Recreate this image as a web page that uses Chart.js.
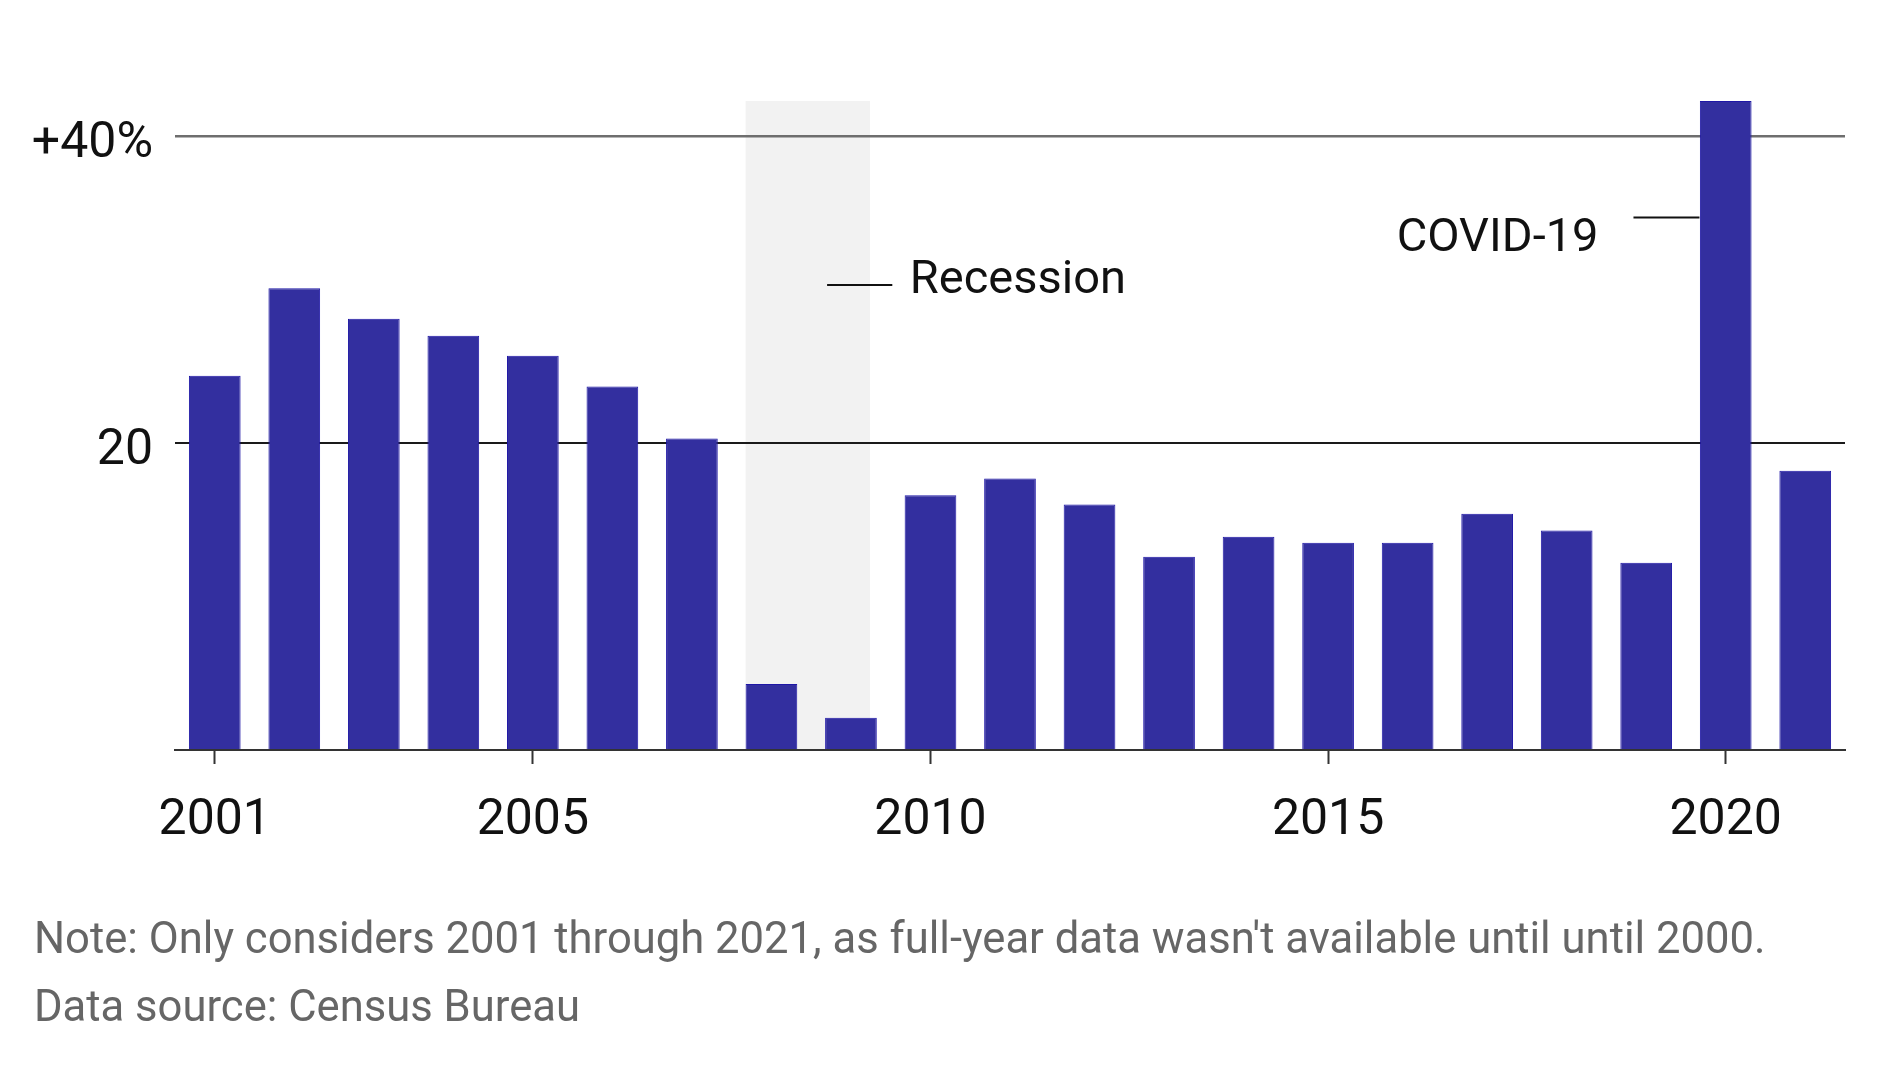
<!DOCTYPE html>
<html>
<head>
<meta charset="utf-8">
<script src="https://cdn.jsdelivr.net/npm/chart.js@4.4.0/dist/chart.umd.min.js"></script>
<style>
  html, body { margin: 0; padding: 0; background: #fff; }
  #wrap { position: relative; width: 1878px; height: 1065px; }
  #chart { position: absolute; left: 0; top: 0; }
  .foot { position: absolute; left: 34px; font-family: Roboto, sans-serif; font-size: 43.6px; color: #666; white-space: nowrap; line-height: 1; }
</style>
</head>
<body>
<div id="wrap">
  <canvas id="chart" width="1878" height="1065"></canvas>
  <div class="foot" style="top:917px">Note: Only considers 2001 through 2021, as full-year data wasn't available until until 2000.</div>
  <div class="foot" style="top:985px">Data source: Census Bureau</div>
</div>
<script>
const years = ['2001', '2002', '2003', '2004', '2005', '2006', '2007', '2008', '2009', '2010', '2011',
    '2012', '2013', '2014', '2015', '2016', '2017', '2018', '2019', '2020', '2021'];
const growth = [24.4, 30.1, 28.1, 27.0, 25.7, 23.7, 20.3, 4.3, 2.1, 16.6, 17.7,
    16.0, 12.6, 13.9, 13.5, 13.5, 15.4, 14.3, 12.2, 42.3, 18.2];
const labeledYears = ['2001', '2005', '2010', '2015', '2020'];
const yTicks = [0, 20, 40];
const yTickLabels = ['', '20', '+40%'];

const font = 'Roboto, sans-serif';

// grey band behind the 2008-2009 bars, drawn before the grid
const recessionBand = {
    id: 'recessionBand',
    beforeDraw(chart) {
        const x = chart.scales.x, y = chart.scales.y, c = chart.ctx;
        const step = x.getPixelForValue(1) - x.getPixelForValue(0);
        const left = x.getPixelForValue(years.indexOf('2008')) - step * 0.325;
        const right = x.getPixelForValue(years.indexOf('2009')) + step * 0.24;
        const top = y.getPixelForValue(y.max);
        c.save();
        c.fillStyle = '#f2f2f2';
        c.fillRect(left, top, right - left, y.getPixelForValue(0) - top);
        c.restore();
    }
};

// labels with short leader lines
const callouts = {
    id: 'callouts',
    afterDatasetsDraw(chart) {
        const x = chart.scales.x, y = chart.scales.y, c = chart.ctx;
        const step = x.getPixelForValue(1) - x.getPixelForValue(0);
        const x9 = x.getPixelForValue(years.indexOf('2009'));
        const x20 = x.getPixelForValue(years.indexOf('2020'));
        c.save();
        c.strokeStyle = '#111';
        c.lineWidth = 2;
        c.fillStyle = '#111';
        c.font = '47px ' + font;
        c.textBaseline = 'middle';

        c.beginPath();
        c.moveTo(x9 - step * 0.3, y.getPixelForValue(30.3));
        c.lineTo(x9 + step * 0.52, y.getPixelForValue(30.3));
        c.stroke();
        c.textAlign = 'left';
        c.fillText('Recession', x9 + step * 0.74, y.getPixelForValue(30.55));

        c.beginPath();
        c.moveTo(x20 - step * 1.16, y.getPixelForValue(34.7));
        c.lineTo(x20 - step * 0.33, y.getPixelForValue(34.7));
        c.stroke();
        c.textAlign = 'right';
        c.fillText('COVID-19', x20 - step * 1.6, y.getPixelForValue(33.3));
        c.restore();
    }
};

new Chart(document.getElementById('chart'), {
    type: 'bar',
    data: {
        labels: years,
        datasets: [{
            data: growth,
            backgroundColor: '#332f9f',
            borderColor: '#1f17a6',
            borderWidth: 1,
            barPercentage: 0.65,
            categoryPercentage: 1
        }]
    },
    options: {
        responsive: false,
        animation: false,
        devicePixelRatio: 1,
        layout: { padding: { top: 101, right: 33, left: 0, bottom: 0 } },
        plugins: { legend: { display: false }, tooltip: { enabled: false } },
        scales: {
            x: {
                grid: {
                    offset: false,
                    drawOnChartArea: false,
                    drawTicks: true,
                    tickLength: 14,
                    tickWidth: 2,
                    tickColor: ctx => labeledYears.includes(years[ctx.index]) ? '#333' : 'rgba(0,0,0,0)'
                },
                border: { color: '#333', width: 2 },
                ticks: {
                    autoSkip: false,
                    maxRotation: 0,
                    padding: 27,
                    color: '#111',
                    font: { family: font, size: 50 },
                    callback: (v, i) => labeledYears.includes(years[i]) ? years[i] : ''
                },
                afterFit: s => { s.height = 315; }
            },
            y: {
                min: 0,
                max: 42.3,
                afterBuildTicks: s => { s.ticks = yTicks.map(v => ({ value: v })); },
                grid: {
                    drawTicks: false,
                    color: ctx => ctx.tick.value === 40 ? '#6e6e6e' : (ctx.tick.value === 20 ? '#1a1a1a' : 'rgba(0,0,0,0)'),
                    lineWidth: ctx => ctx.tick.value === 40 ? 2.5 : 2
                },
                border: { display: false },
                ticks: {
                    padding: 22,
                    labelOffset: 8,
                    color: '#111',
                    font: { family: font, size: 50 },
                    callback: v => yTickLabels[yTicks.indexOf(v)]
                },
                afterFit: s => { s.width = 175; }
            }
        }
    },
    plugins: [recessionBand, callouts]
});
</script>
</body>
</html>
